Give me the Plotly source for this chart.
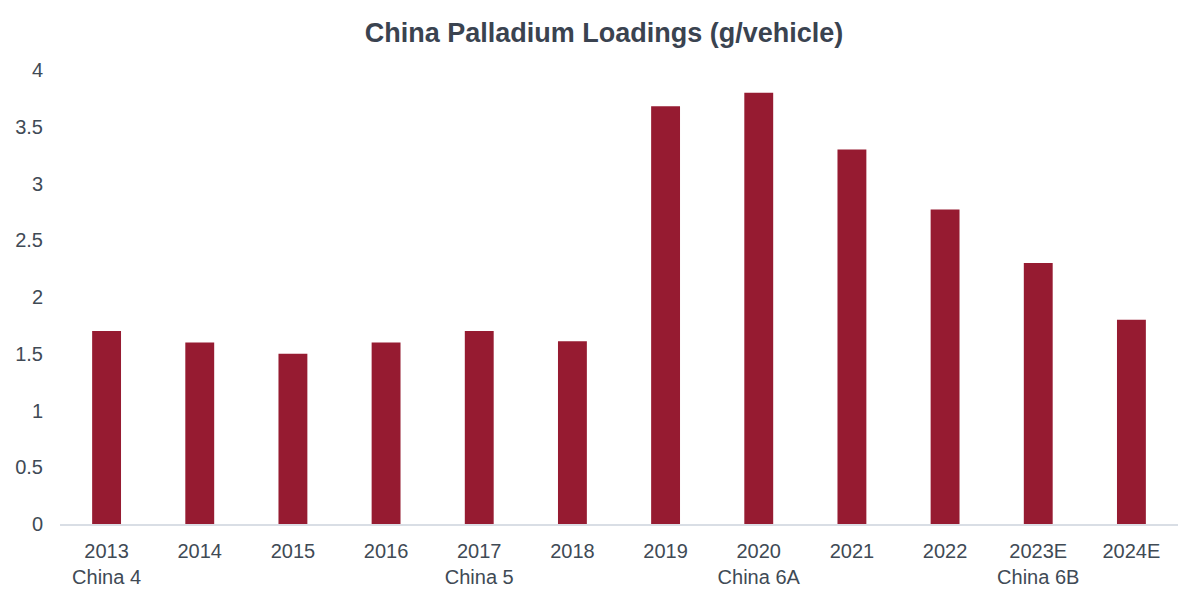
import plotly.graph_objects as go

years = ["2013", "2014", "2015", "2016", "2017", "2018", "2019", "2020", "2021", "2022", "2023E", "2024E"]
stages = ["China 4", "", "", "", "China 5", "", "", "China 6A", "", "", "China 6B", ""]
loadings = [1.7, 1.6, 1.5, 1.6, 1.7, 1.61, 3.68, 3.8, 3.3, 2.77, 2.3, 1.8]

tick_text = [f"{y}<br>{s}" if s else y for y, s in zip(years, stages)]

fig = go.Figure()
fig.add_trace(go.Bar(
    x=years, y=loadings,
    marker=dict(color="#961B31", line=dict(width=0)),
    width=0.31,
))

fig.update_layout(
    width=1192, height=590,
    paper_bgcolor="white", plot_bgcolor="white",
    margin=dict(l=52, r=22, t=62, b=74, autoexpand=False),
    font=dict(family="Liberation Sans, Arial, sans-serif", size=20, color="#404A55"),
    title=dict(text="<b>China Palladium Loadings (g/vehicle)</b>", x=0.5, xanchor="center",
               y=0.959, yanchor="middle", font=dict(size=27, color="#3A4350")),
    showlegend=False,
    bargap=0.69,
)
fig.update_xaxes(
    tickmode="array", tickvals=years, ticktext=tick_text, automargin=False,
    showline=True, linecolor="#D9DEE5", linewidth=1.5,
    showgrid=False, ticks="", ticklabelstandoff=8, tickfont=dict(size=20, color="#404A55"),
)
fig.update_yaxes(
    range=[0, 4], dtick=0.5, showgrid=False, zeroline=False, showline=False, automargin=False,
    ticks="", ticklabelstandoff=16, tickfont=dict(size=20, color="#404A55"),
)

fig.write_html("out.html")
